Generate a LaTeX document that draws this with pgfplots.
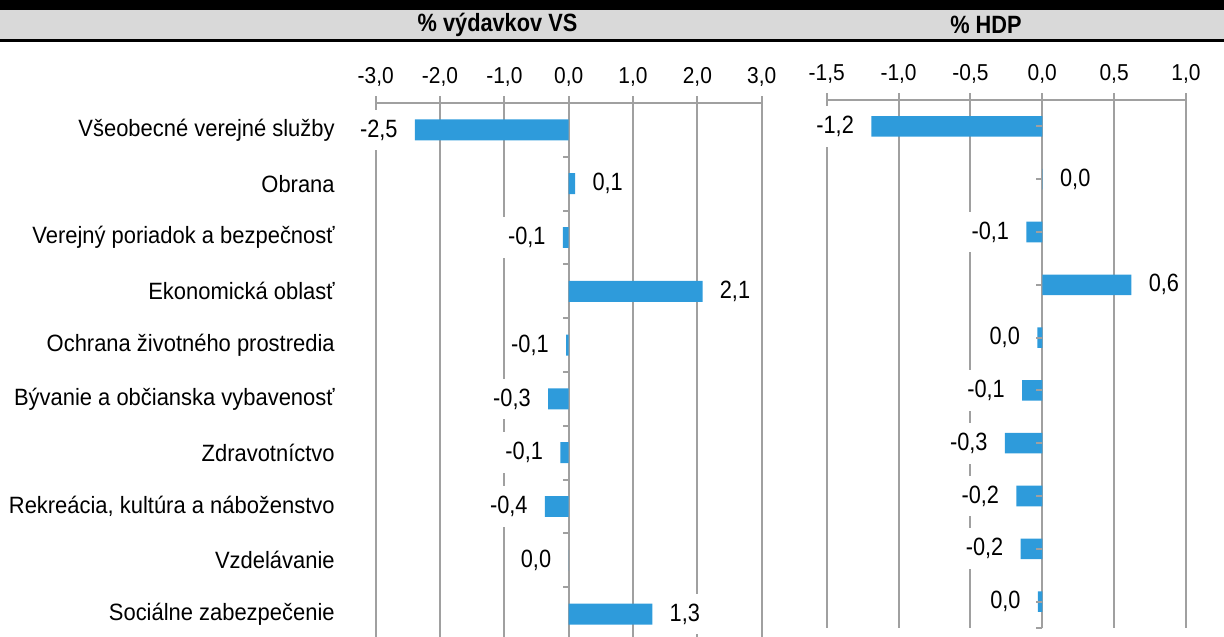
\documentclass[border=0pt]{standalone}
\usepackage{pgfplots}
\pgfplotsset{compat=1.18}
\usepackage{fontspec}
\setmainfont{Liberation Sans}[FakeStretch=0.93]
\newfontfamily\tickfam{Liberation Sans}[FakeStretch=0.91]
\newfontfamily\labfam{Liberation Sans}[FakeStretch=0.87]

\definecolor{barblue}{HTML}{2E9BDB}
\definecolor{gridgray}{HTML}{A0A0A0}
\definecolor{headgray}{HTML}{D9D9D9}

\newcommand{\catfont}{\fontsize{11.8bp}{13bp}\selectfont}
\newcommand{\tickfont}{\tickfam\fontsize{11.5bp}{13bp}\selectfont}
\newcommand{\labfont}{\labfam\fontsize{12.5bp}{14bp}\selectfont}

\pgfplotsset{
  panel/.style={
    scale only axis,
    axis x line*=top,
    axis y line*=left,
    enlargelimits=false,
    ymin=-0.5, ymax=9.5,
    xmajorgrids,
    grid style={gridgray, line width=1bp},
    axis line style={gridgray, line width=1bp},
    tick style={gridgray, line width=1bp},
    tick align=center,
    major tick length=7bp,
    ytick style={draw=none},
    xticklabel style={
      font=\tickfont, yshift=1.5bp,
      /pgf/number format/.cd, fixed, fixed zerofill, precision=1,
      use comma, assume math mode=true,
    },
    clip=false,
  },
  negbar/.style={
    xbar, bar width=0.39, bar shift=0pt, fill=barblue, draw=none,
    point meta=explicit symbolic, nodes near coords,
    every node near coord/.append style={
      font=\labfont, text=black, fill=white, anchor=east,
      inner xsep=3bp, inner ysep=5bp, xshift=-5.5bp},
  },
  posbar/.style={
    xbar, bar width=0.39, bar shift=0pt, fill=barblue, draw=none,
    point meta=explicit symbolic, nodes near coords,
    every node near coord/.append style={
      font=\labfont, text=black, fill=white, anchor=west,
      inner xsep=3bp, inner ysep=5bp, xshift=5.5bp},
  },
  zeroticks/.style={
    only marks, mark=-, mark size=1.5bp, gridgray, line width=1bp,
    mark options={xshift=-1.5bp},
  },
}

\begin{document}
\begin{tikzpicture}
\useasboundingbox (0,0) rectangle (612bp,-318.5bp);

% header bands
\fill[black] (0,0) rectangle (612bp,-4.75bp);
\fill[headgray] (0,-4.75bp) rectangle (612bp,-19.5bp);
\draw[black, line width=1.5bp] (0,-20.25bp) -- (612bp,-20.25bp);
\node[font=\labfam\bfseries\fontsize{12.5bp}{14bp}\selectfont] at (248.75bp,-12.6bp) {\% výdavkov VS};
\node[font=\labfam\bfseries\fontsize{12.5bp}{14bp}\selectfont] at (493bp,-12.6bp) {\% HDP};

% left panel: % of general government expenditure
\begin{axis}[
  panel,
  at={(187.85bp,-51.5bp)}, anchor=north west,
  width=193bp, height=269bp,
  xmin=-3, xmax=3,
  xtick={-3,-2,-1,0,1,2,3},
  ytick={0,1,2,3,4,5,6,7,8,9},
  yticklabels={
    Sociálne zabezpečenie,
    Vzdelávanie,
    {Rekreácia, kultúra a náboženstvo},
    Zdravotníctvo,
    Bývanie a občianska vybavenosť,
    Ochrana životného prostredia,
    Ekonomická oblasť,
    Verejný poriadok a bezpečnosť,
    Obrana,
    Všeobecné verejné služby,
  },
  yticklabel style={font=\catfont, anchor=east, xshift=-13.5bp},
]
\addplot[negbar] coordinates {
  (-2.39,9) [-2,5]
  (-0.09,7) [-0,1]
  (-0.04,5) [-0,1]
  (-0.32,4) [-0,3]
  (-0.13,3) [-0,1]
  (-0.37,2) [-0,4]
  (-0.003,1) [0,0]
};
\addplot[posbar] coordinates {
  (0.10,8) [0,1]
  (2.08,6) [2,1]
  (1.30,0) [1,3]
};
\addplot[zeroticks] coordinates {
  (0,8.5) (0,7.5) (0,6.5) (0,5.5) (0,4.5) (0,3.5) (0,2.5) (0,1.5) (0,0.5)
};
\end{axis}

% right panel: % of GDP
\begin{axis}[
  panel,
  at={(413.35bp,-50bp)}, anchor=north west,
  width=179.65bp, height=264bp,
  xmin=-1.5, xmax=1,
  xtick={-1.5,-1,-0.5,0,0.5,1},
  ytick=\empty,
]
\addplot[negbar] coordinates {
  (-1.19,9) [-1,2]
  (-0.11,7) [-0,1]
  (-0.035,5) [0,0]
  (-0.14,4) [-0,1]
  (-0.26,3) [-0,3]
  (-0.18,2) [-0,2]
  (-0.15,1) [-0,2]
  (-0.03,0) [0,0]
};
\addplot[posbar] coordinates {
  (0.003,8) [0,0]
  (0.62,6) [0,6]
};
\addplot[zeroticks] coordinates {
  (0,9) (0,8) (0,7) (0,6) (0,5) (0,4) (0,3) (0,2) (0,1) (0,0) (0,-0.5)
};
\end{axis}
\end{tikzpicture}
\end{document}
